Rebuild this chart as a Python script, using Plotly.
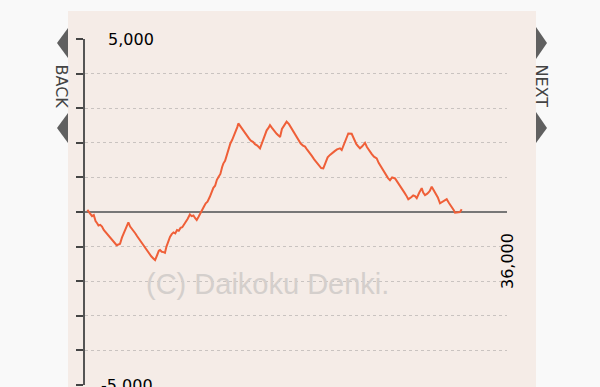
import plotly.graph_objects as go

# ---- data ----
games = [200, 450, 600, 750, 900, 1050, 1150, 1300, 1450, 1600, 1800, 2000, 2150, 2350, 2500, 2700, 2850, 2990,
         3150, 3300, 3450, 3550, 3700, 3850, 4000, 4150, 4300, 4450, 4650, 4850, 5050, 5250, 5450, 5650, 5850, 5980,
         6150, 6300, 6400, 6550, 6700, 6820, 6950, 7100, 7250, 7400, 7550, 7700, 7850, 8000, 8150, 8300, 8450, 8600,
         8750, 8950, 9100, 9250, 9400, 9530, 9700, 9850, 9960, 10150, 10300, 10450, 10650, 10800, 10950, 11100, 11250,
         11400, 11550, 11700, 11800, 11950, 12100, 12250, 12400, 12550, 12700, 12850, 13000, 13080, 13250, 13400,
         13600, 13800, 14000, 14150, 14350, 14500, 14700, 14930, 15100, 15300, 15500, 15650, 15780, 15950, 16150,
         16350, 16550, 16640, 16800, 17000, 17200, 17400, 17600, 17800, 18000, 18200, 18400, 18600, 18770, 18950,
         19150, 19350, 19550, 19750, 19950, 20150, 20330, 20500, 20700, 20900, 21100, 21300, 21500, 21750, 21900,
         22100, 22300, 22460, 22750, 22950, 23150, 23300, 23460, 23650, 23887, 24050, 24250, 24450, 24650, 24885,
         25050, 25250, 25450, 25650, 25850, 26020, 26200, 26450, 26650, 26850, 27050, 27250, 27400, 27580, 27800,
         28000, 28150, 28300, 28500, 28724, 28850, 29005, 29200, 29400, 29577, 29750, 29900, 30100, 30285, 30500,
         30700, 30857, 31050, 31250, 31450, 31564, 31800, 31990, 32135]
medals = [60, -60, -120, -90, -260, -330, -390, -370, -420, -520, -600, -700, -760, -840, -900, -960, -940, -920,
          -740, -620, -520, -400, -300, -420, -480, -570, -620, -700, -800, -900, -1000, -1100, -1200, -1280, -1350, -1390,
          -1250, -1120, -1100, -1150, -1160, -1180, -1000, -840, -720, -640, -590, -620, -520, -540, -460, -440, -340, -280,
          -200, -70, -120, -100, -180, -230, -130, -20, 60, 160, 250, 300, 440, 560, 700, 760, 930,
          1020, 1100, 1300, 1400, 1480, 1650, 1800, 1980, 2080, 2200, 2350, 2460, 2560, 2480, 2380,
          2280, 2200, 2120, 2060, 2020, 1960, 1920, 1840, 2000, 2200, 2360, 2430, 2510, 2430, 2330,
          2260, 2200, 2170, 2400, 2500, 2610, 2540, 2420, 2300, 2200, 2100, 1980, 1920, 1890, 1800,
          1720, 1620, 1520, 1440, 1350, 1270, 1260, 1440, 1580, 1650, 1720, 1760, 1810, 1840, 1790,
          1960, 2150, 2270, 2260, 2100, 1960, 1900, 1840, 1900, 2000, 1880, 1760, 1680, 1600, 1550,
          1420, 1300, 1180, 1080, 980, 920, 1000, 970, 860, 740, 640, 560, 480, 370, 420,
          480, 460, 400, 550, 690, 560, 490, 530, 600, 730, 620, 520, 420, 250, 300,
          330, 370, 260, 170, 60, -20, -10, 0, 80]

y_ticks = [-5000, -4000, -3000, -2000, -1000, 0, 1000, 2000, 3000, 4000, 5000]
y_label_top = "5,000"
y_label_bottom = "-5,000"
x_max = 36000
x_label = "36,000"
watermark = "(C) Daikoku Denki."

# ---- layout geometry ----
W, H = 600, 387
L, R, T, B = 85, 507, 39, 385  # plot area in pixels


def px(x):
    return (x - L) / (R - L)


def py(y):
    return (B - y) / (B - T)


fig = go.Figure()
fig.add_trace(go.Scatter(x=games, y=medals, mode="lines",
                         line=dict(color="#ef5f38", width=2), hoverinfo="skip"))

shapes = [
    # panel
    dict(type="rect", xref="paper", yref="paper", x0=px(68), x1=px(536), y0=py(11), y1=py(395),
         fillcolor="#f5ece7", line=dict(width=0), layer="below"),
]


def tri(points):
    path = "M " + " L ".join(f"{px(a)},{py(b)}" for a, b in points) + " Z"
    return dict(type="path", xref="paper", yref="paper", path=path,
                fillcolor="#606060", line=dict(width=0), layer="above")


shapes += [
    tri([(57, 43), (68, 28), (68, 58)]),
    tri([(57, 128), (68, 113), (68, 143)]),
    tri([(547, 43), (536, 27), (536, 59)]),
    tri([(547, 128), (536, 112), (536, 143)]),
]

lab_font = dict(family="DejaVu Sans", size=16, color="#000")
annotations = [
    dict(text=y_label_top, xref="paper", yref="y", x=px(156), y=5000, xanchor="right", yanchor="middle",
         showarrow=False, font=lab_font),
    dict(text=y_label_bottom, xref="paper", yref="y", x=px(155), y=-5000, xanchor="right", yanchor="middle",
         showarrow=False, font=lab_font),
    dict(text=x_label, xref="x", yref="paper", x=x_max, y=py(261), xanchor="center", yanchor="middle",
         textangle=-90, showarrow=False, font=lab_font),
    dict(text="BACK", xref="paper", yref="paper", x=px(61.5), y=py(86), xanchor="center", yanchor="middle",
         textangle=90, showarrow=False, font=dict(family="DejaVu Sans", size=16, color="#444")),
    dict(text="NEXT", xref="paper", yref="paper", x=px(541.5), y=py(86), xanchor="center", yanchor="middle",
         textangle=90, showarrow=False, font=dict(family="DejaVu Sans", size=16, color="#444")),
    dict(text=watermark, xref="paper", yref="paper", x=px(267.5), y=py(284), xanchor="center", yanchor="middle",
         showarrow=False, font=dict(family="Liberation Sans", size=29, color="#d4cfcc")),
]

fig.update_layout(
    width=W, height=H,
    margin=dict(l=L, r=W - R, t=T, b=H - B, pad=0),
    paper_bgcolor="#f9f9f9",
    plot_bgcolor="rgba(0,0,0,0)",
    showlegend=False,
    shapes=shapes,
    annotations=annotations,
    xaxis=dict(range=[0, x_max], visible=False, showgrid=False, zeroline=False, fixedrange=True),
    yaxis=dict(range=[-5000, 5000], tickvals=y_ticks, showticklabels=False,
               ticks="outside", ticklen=7, tickwidth=1.5, tickcolor="#444",
               showline=True, linecolor="#555", linewidth=1.5,
               showgrid=True, gridcolor="#c9c3c0", gridwidth=1, griddash="dot",
               zeroline=True, zerolinecolor="#777", zerolinewidth=2, fixedrange=True),
)

fig.write_html("out.html")
